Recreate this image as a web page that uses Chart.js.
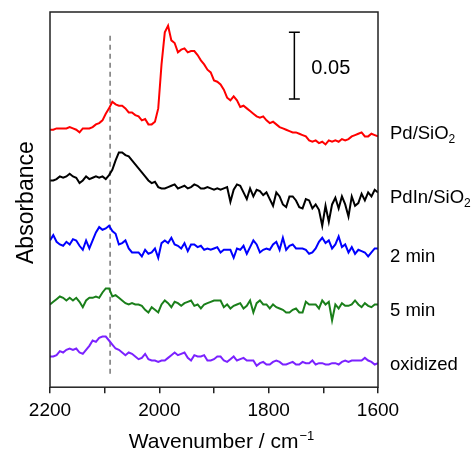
<!DOCTYPE html>
<html>
<head>
<meta charset="utf-8">
<script src="https://cdn.jsdelivr.net/npm/chart.js@4.4.0/dist/chart.umd.min.js"></script>
<style>
  html, body { margin: 0; padding: 0; background: #fff; }
</style>
</head>
<body>
<canvas id="ir-chart" width="472" height="453"></canvas>
<script>
// wavenumber grid (cm-1), 2200 -> 1600 every 6
const waveStart = 2200;
const waveStep = 6;
const waveCount = 101;

// absorbance in mAbs, traces already offset as in the figure
const pdSiO2 = [193,193,194,194,194,194,195,194,193,191,
  194,194,194,195,197,198,200,205,209,214,
  212,211,211,209,206,206,204,203,200,201,
  197,197,199,209,242,266,271,260,258,251,
  253,254,251,252,252,249,245,242,238,236,
  230,229,227,223,217,215,218,215,210,211,
  209,207,205,203,202,203,200,198,199,197,
  195,194,193,192,191,191,190,189,188,185,
  184,185,183,184,182,185,184,185,184,186,
  185,186,188,189,190,191,188,188,190,189,
  188];
const pdInSiO2 = [155,155,156,158,157,158,160,158,157,153,
  155,158,156,157,158,157,158,156,159,163,
  170,176,176,174,173,170,167,164,161,158,
  155,153,154,150,149,149,150,151,152,149,
  150,151,149,150,152,151,149,149,150,149,
  148,149,148,149,150,139,148,152,151,146,
  141,149,143,148,147,144,146,141,136,146,
  143,137,135,143,143,140,135,134,141,140,
  134,137,133,121,136,124,137,142,134,143,
  137,128,143,136,138,145,140,146,143,148,
  146];
const min2 = [110,114,109,107,106,109,107,111,110,106,
  103,110,104,110,116,120,118,119,121,117,
  115,107,108,110,104,101,101,101,98,103,
  100,101,104,97,108,110,108,112,107,106,
  104,108,102,107,107,105,106,103,104,103,
  104,105,101,103,103,103,97,104,103,106,
  100,105,110,107,101,103,104,103,107,109,
  103,112,103,106,107,104,104,104,103,100,
  101,104,109,112,108,110,104,107,113,105,
  107,101,105,100,103,102,101,98,101,104,
  104];
const min5 = [62,64,66,68,67,65,67,65,67,64,
  60,65,67,67,68,67,71,74,74,68,
  69,67,65,63,62,63,62,62,61,58,
  56,60,58,56,62,65,63,60,64,63,
  61,63,64,65,61,62,59,62,63,64,
  65,65,65,60,62,59,61,62,63,59,
  61,65,56,63,65,62,62,59,62,60,
  59,58,56,56,58,59,56,56,64,62,
  62,62,59,65,62,64,50,62,59,63,
  61,61,62,65,62,60,63,61,60,62,
  62];
const oxidized = [23,23,24,27,26,28,29,28,29,26,
  25,28,31,35,34,37,38,38,35,32,
  29,28,26,24,26,25,23,21,22,25,
  21,20,20,19,20,20,22,24,26,24,
  25,26,22,20,24,23,23,24,20,20,
  21,23,23,20,19,21,23,20,21,22,
  20,20,20,16,18,19,17,17,19,20,
  19,17,17,18,19,17,17,19,18,18,
  20,17,18,18,17,17,18,18,17,19,
  20,19,20,20,20,20,22,20,19,17,
  18];

const seriesNames = ["Pd/SiO2", "PdIn/SiO2", "2 min", "5 min", "oxidized"];
const seriesValues = [pdSiO2, pdInSiO2, min2, min5, oxidized];
const seriesColors = ["#ff0000", "#000000", "#0000ff", "#1a7f1a", "#7b22ff"];
const labelLevels = [190, 142, 98, 57, 17];

// dashed marker line
const markerWave = 2090;
const markerRange = [10, 265];

// scale bar: 50 mAbs = 0.05
const scaleBarWave = 1753;
const scaleBarBottom = 216;
const scaleBarSize = 50;
const scaleBarCap = 10;
const scaleBarText = "0.05";

const xTicks = [2200, 2000, 1800, 1600];

const FONT = "'Liberation Sans', Arial, sans-serif";
Chart.defaults.font.family = FONT;
Chart.defaults.color = "#000";

const wavenumbers = [];
for (let i = 0; i < waveCount; i++) wavenumbers.push(waveStart - i * waveStep);

const datasets = seriesValues.map((vals, k) => ({
  label: seriesNames[k],
  data: vals.map((v, i) => ({ x: wavenumbers[i], y: v })),
  borderColor: seriesColors[k],
  borderWidth: 2,
  pointRadius: 0,
  tension: 0,
}));

datasets.push({
  label: "marker",
  data: [{ x: markerWave, y: markerRange[0] }, { x: markerWave, y: markerRange[1] }],
  borderColor: "#8a8a8a",
  borderWidth: 1.8,
  borderDash: [5, 4],
  pointRadius: 0,
});

const sbTop = scaleBarBottom + scaleBarSize;
datasets.push({
  label: "scale",
  data: [
    { x: scaleBarWave + scaleBarCap, y: sbTop },
    { x: scaleBarWave - scaleBarCap, y: sbTop },
    { x: scaleBarWave, y: sbTop },
    { x: scaleBarWave, y: scaleBarBottom },
    { x: scaleBarWave - scaleBarCap, y: scaleBarBottom },
    { x: scaleBarWave + scaleBarCap, y: scaleBarBottom },
  ],
  borderColor: "#000",
  borderWidth: 1.5,
  pointRadius: 0,
});

// text with subscript digits after letters (SiO2)
function drawChem(ctx, text, x, y, size) {
  let cx = x;
  for (let i = 0; i < text.length; i++) {
    const ch = text[i];
    const sub = /[0-9]/.test(ch) && i > 0 && /[A-Za-z]/.test(text[i - 1]);
    ctx.font = (sub ? size * 0.65 : size) + "px " + FONT;
    ctx.fillText(ch, cx, sub ? y + size * 0.3 : y);
    cx += ctx.measureText(ch).width;
  }
}

const extras = {
  id: "extras",
  afterDatasetsDraw(chart) {
    const { ctx, chartArea: a, scales } = chart;
    ctx.save();
    // frame
    ctx.strokeStyle = "#222";
    ctx.lineWidth = 1.5;
    ctx.strokeRect(a.left, a.top, a.right - a.left, a.bottom - a.top);

    ctx.fillStyle = "#000";
    ctx.textBaseline = "middle";
    ctx.textAlign = "left";
    seriesNames.forEach((name, k) => {
      drawChem(ctx, name, a.right + 12, scales.y.getPixelForValue(labelLevels[k]), 18.5);
    });

    // scale bar text
    ctx.font = "20px " + FONT;
    ctx.textBaseline = "alphabetic";
    ctx.fillText(scaleBarText, scales.x.getPixelForValue(scaleBarWave) + 17,
      scales.y.getPixelForValue(scaleBarBottom + scaleBarSize / 2) + 8);

    // x title with superscript
    const main = "Wavenumber / cm";
    const sup = "\u22121";
    ctx.font = "21px " + FONT;
    const wMain = ctx.measureText(main).width;
    ctx.font = "13px " + FONT;
    const wSup = ctx.measureText(sup).width;
    const startX = (a.left + a.right) / 2 + 7 - (wMain + wSup) / 2;
    ctx.font = "21px " + FONT;
    ctx.fillText(main, startX, 448);
    ctx.font = "13px " + FONT;
    ctx.fillText(sup, startX + wMain + 1, 440);

    // y title
    ctx.translate(33, (a.top + a.bottom) / 2 + 3);
    ctx.rotate(-Math.PI / 2);
    ctx.textAlign = "center";
    ctx.font = "23px " + FONT;
    ctx.fillText("Absorbance", 0, 0);
    ctx.restore();
  },
};

new Chart(document.getElementById("ir-chart"), {
  type: "line",
  data: { datasets },
  options: {
    responsive: false,
    animation: false,
    layout: { padding: { left: 50, right: 94, top: 12, bottom: 25 } },
    plugins: { legend: { display: false }, tooltip: { enabled: false } },
    scales: {
      x: {
        type: "linear",
        reverse: true,
        min: 1600,
        max: 2200,
        border: { display: false },
        grid: { drawOnChartArea: false, drawTicks: true, tickLength: 6, color: "#222", lineWidth: 1.5 },
        ticks: {
          stepSize: 100,
          autoSkip: false,
          maxRotation: 0,
          padding: 6,
          font: { size: 19 },
          color: "#000",
          callback: (v) => (xTicks.includes(v) ? String(v) : ""),
        },
      },
      y: { display: false, min: 0, max: 281.25 },
    },
  },
  plugins: [extras],
});
</script>
</body>
</html>
